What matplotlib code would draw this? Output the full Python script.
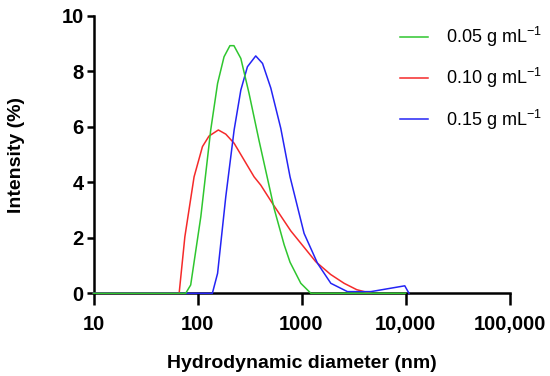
import matplotlib
matplotlib.use('Agg')
import matplotlib.pyplot as plt
from matplotlib.ticker import FixedLocator, NullLocator

plt.rcParams['font.family'] = ['Liberation Sans', 'DejaVu Sans']
plt.rcParams['mathtext.fontset'] = 'custom'
plt.rcParams['mathtext.rm'] = 'Liberation Sans'
plt.rcParams['mathtext.it'] = 'Liberation Sans:italic'
plt.rcParams['mathtext.bf'] = 'Liberation Sans:bold'

# --- Data ---
size_005 = [10, 77, 86, 107.6, 134, 156, 180, 205, 224, 261, 313, 391, 507, 546, 681, 776, 985, 1230, 10000]
int_005 = [0, 0, 0.3, 2.76, 5.89, 7.57, 8.53, 8.93, 8.93, 8.47, 7.21, 5.5, 3.6, 3.05, 1.75, 1.12, 0.36, 0, 0]

size_010 = [10, 66.6, 75.6, 92.7, 111.6, 129, 158.6, 187, 225, 350, 406, 526, 789, 1371, 1905, 2570, 3400, 4630]
int_010 = [0, 0, 2.04, 4.2, 5.29, 5.67, 5.89, 5.74, 5.41, 4.2, 3.9, 3.24, 2.25, 1.14, 0.68, 0.36, 0.13, 0]

size_015 = [10, 139, 156, 187, 225, 261, 302, 363, 422, 507, 632, 776, 1059, 1426, 1915, 2767, 4640, 9840, 10800]
int_015 = [0, 0, 0.72, 3.48, 5.89, 7.33, 8.17, 8.56, 8.29, 7.4, 5.95, 4.2, 2.16, 1.08, 0.36, 0.06, 0.06, 0.27, 0]

labels = [r'0.05 g mL$^{-1}$', r'0.10 g mL$^{-1}$', r'0.15 g mL$^{-1}$']
x_ticks = [10, 100, 1000, 10000, 100000]
x_ticklabels = ['10', '100', '1000', '10,000', '100,000']
y_ticks = [0, 2, 4, 6, 8, 10]

C_GREEN = '#2fc62f'
C_RED = '#f52a2a'
C_BLUE = '#2424f5'

# --- Canvas ---
fig = plt.figure(figsize=(5.5, 3.76), dpi=100)
ax = fig.add_axes([93.5 / 550, 1 - 293.3 / 376, 416 / 550, 277.3 / 376])

l_g, = ax.plot(size_005, int_005, color=C_GREEN, lw=1.1, zorder=5, clip_on=False)
l_r, = ax.plot(size_010, int_010, color=C_RED, lw=1.1, zorder=3, clip_on=False)
l_b, = ax.plot(size_015, int_015, color=C_BLUE, lw=1.1, zorder=4, clip_on=False)

ax.set_xscale('log')
ax.set_xlim(10, 100000)
ax.set_ylim(0, 10)
ax.xaxis.set_major_locator(FixedLocator(x_ticks))
ax.xaxis.set_minor_locator(NullLocator())
ax.set_xticks(x_ticks)
ax.set_xticklabels(x_ticklabels)
ax.set_yticks(y_ticks)

for s in ['top', 'right']:
    ax.spines[s].set_visible(False)
for s in ['left', 'bottom']:
    ax.spines[s].set_linewidth(1.8)
    ax.spines[s].set_zorder(2)

ax.tick_params(axis='x', length=8.5, width=1.8, pad=7, labelsize=14.5)
ax.tick_params(axis='y', length=5, width=1.8, pad=2, labelsize=14.5)
for lab in ax.get_xticklabels() + ax.get_yticklabels():
    lab.set_fontweight('bold')

ax.set_xlabel('Hydrodynamic diameter (nm)', fontsize=14, fontweight='bold', labelpad=15)
ax.set_ylabel('Intensity (%)', fontsize=14, fontweight='bold', labelpad=26)

fig.legend([l_g, l_r, l_b], labels, loc='upper left', bbox_to_anchor=(400 / 550, 1 - 25 / 376),
           frameon=False, fontsize=13, handlelength=1.55, handletextpad=1.0, labelspacing=0.95,
           borderpad=0, borderaxespad=0)

fig.savefig('out.png', dpi=100, facecolor='white')
plt.close()
